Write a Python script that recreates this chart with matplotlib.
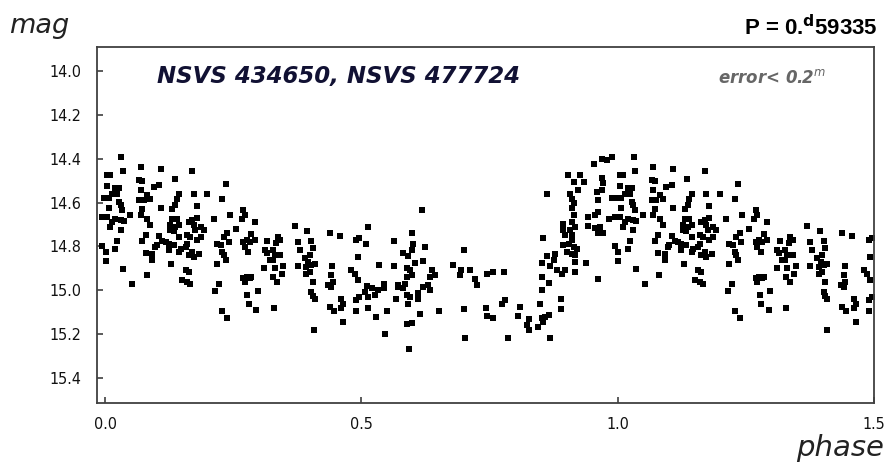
import numpy as np
import matplotlib
matplotlib.use("Agg")
import matplotlib.pyplot as plt

# phase 0..1; the 1.0-1.5 part is the same points shifted by one period
phase = [
    0.031, 0.010, 0.004, 0.034, 0.069, 0.108, 0.170, 0.136, 0.066, 0.072, 0.004, 0.020, 0.027, 0.105,
    0.095, 0.235, 0.069, 0.014, 0.023, 0.144, 0.173, 0.199, -0.003, 0.007, 0.082, 0.088, 0.075, 0.066,
    0.140, 0.228, 0.027, 0.030, 0.137, 0.007, 0.108, 0.179, 0.131, 0.072, 0.033, 0.049, 0.069, 0.243,
    -0.006, 0.004, 0.082, 0.212, 0.020, 0.030, 0.014, 0.036, 0.131, 0.140, 0.179, 0.170, 0.163, 0.088,
    0.010, 0.127, 0.137, 0.144, 0.186, 0.192, 0.176, 0.173, 0.030, 0.127, 0.134, 0.238, 0.079, 0.105,
    0.144, 0.160, 0.166, 0.186, 0.179, 0.231, 0.241, 0.072, 0.023, 0.111, 0.118, 0.124, 0.134, 0.101,
    0.160, 0.157, 0.218, 0.225, -0.006, 0.020, 0.098, 0.124, 0.147, 0.144, 0.001, 0.228, 0.231, 0.079,
    0.092, 0.163, 0.173, 0.183, 0.170, 0.092, 0.001, 0.235, 0.129, 0.218, 0.035, 0.157, 0.163, 0.081,
    0.150, 0.160, 0.166, 0.053, 0.222, 0.215, 0.228, 0.238,
    0.269, 0.272, 0.266, 0.292, 0.256, 0.285, 0.276, 0.269, 0.282, 0.292, 0.272, 0.279, 0.370, 0.394,
    0.438, 0.458, 0.490, 0.496, 0.316, 0.337, 0.342, 0.334, 0.376, 0.402, 0.311, 0.315, 0.327, 0.331,
    0.341, 0.321, 0.327, 0.380, 0.405, 0.399, 0.389, 0.396, 0.402, 0.409, 0.392, 0.399, 0.376, 0.493,
    0.310, 0.331, 0.347, 0.344, 0.328, 0.336, 0.392, 0.443, 0.480, 0.487, 0.269, 0.276, 0.282, 0.272,
    0.285, 0.441, 0.435, 0.441, 0.444, 0.405, 0.493, 0.298, 0.402, 0.405, 0.409, 0.277, 0.461, 0.464,
    0.461, 0.490, 0.496, 0.280, 0.295, 0.329, 0.438, 0.446, 0.490, 0.464, 0.408,
    0.619, 0.512, 0.598, 0.509, 0.564, 0.601, 0.598, 0.582, 0.591, 0.623, 0.700, 0.534, 0.564, 0.604,
    0.620, 0.588, 0.595, 0.598, 0.588, 0.637, 0.643, 0.634, 0.678, 0.695, 0.692, 0.712, 0.721, 0.725,
    0.744, 0.757, 0.510, 0.520, 0.507, 0.513, 0.526, 0.533, 0.543, 0.543, 0.572, 0.585, 0.582, 0.572,
    0.620, 0.630, 0.634, 0.611, 0.611, 0.588, 0.595, 0.591, 0.567, 0.512, 0.549, 0.528, 0.614, 0.651,
    0.700, 0.743, 0.745, 0.756, 0.589, 0.598, 0.546, 0.702, 0.593,
    0.953, 0.969, 0.979, 0.988, 0.903, 0.927, 0.914, 0.935, 0.923, 0.969, 0.972, 0.969, 0.959, 0.962,
    0.988, 0.862, 0.907, 0.910, 0.914, 0.910, 0.962, 0.956, 0.942, 0.942, 0.982, 0.894, 0.894, 0.897,
    0.914, 0.910, 0.917, 0.907, 0.910, 0.956, 0.966, 0.962, 0.972, 0.855, 0.894, 0.904, 0.910, 0.914,
    0.901, 0.910, 0.920, 0.917, 0.862, 0.878, 0.875, 0.852, 0.868, 0.881, 0.891, 0.897, 0.917, 0.917,
    0.938, 0.852, 0.865, 0.852, 0.962, 0.779, 0.780, 0.775, 0.890, 0.890, 0.849, 0.810, 0.806, 0.826,
    0.823, 0.826, 0.852, 0.858, 0.865, 0.855, 0.844, 0.785, 0.868,
]
mag = [
    14.394, 14.472, 14.472, 14.457, 14.437, 14.445, 14.457, 14.493, 14.495, 14.502, 14.524, 14.533, 14.533, 14.521,
    14.528, 14.516, 14.544, 14.559, 14.559, 14.559, 14.559, 14.559, 14.578, 14.578, 14.566, 14.582, 14.589, 14.589,
    14.582, 14.582, 14.597, 14.612, 14.609, 14.623, 14.623, 14.617, 14.630, 14.630, 14.635, 14.655, 14.658, 14.655,
    14.665, 14.665, 14.673, 14.673, 14.676, 14.680, 14.691, 14.685, 14.673, 14.673, 14.670, 14.680, 14.691, 14.703,
    14.711, 14.703, 14.711, 14.703, 14.711, 14.726, 14.726, 14.703, 14.726, 14.726, 14.731, 14.741, 14.746, 14.752,
    14.757, 14.746, 14.757, 14.757, 14.772, 14.757, 14.780, 14.775, 14.775, 14.775, 14.782, 14.787, 14.792, 14.792,
    14.787, 14.802, 14.787, 14.795, 14.799, 14.810, 14.802, 14.817, 14.810, 14.825, 14.828, 14.825, 14.840, 14.830,
    14.833, 14.840, 14.848, 14.837, 14.825, 14.863, 14.866, 14.863, 14.881, 14.881, 14.904, 14.909, 14.916, 14.932,
    14.955, 14.962, 14.970, 14.974, 14.974, 15.003, 15.094, 15.125,
    14.634, 14.657, 14.675, 14.688, 14.723, 14.744, 14.771, 14.779, 14.779, 14.771, 14.802, 14.825, 14.707, 14.730,
    14.738, 14.753, 14.771, 14.764, 14.774, 14.759, 14.771, 14.783, 14.779, 14.774, 14.817, 14.832, 14.817, 14.840,
    14.840, 14.863, 14.863, 14.817, 14.809, 14.840, 14.855, 14.870, 14.886, 14.881, 14.893, 14.916, 14.890, 14.850,
    14.901, 14.901, 14.890, 14.924, 14.939, 14.962, 14.924, 14.890, 14.908, 14.924, 14.946, 14.939, 14.946, 14.962,
    14.939, 14.931, 14.977, 14.985, 14.962, 14.962, 14.954, 15.003, 15.007, 15.027, 15.042, 15.023, 15.038, 15.061,
    15.083, 15.045, 15.030, 15.061, 15.091, 15.080, 15.076, 15.094, 15.095, 15.147, 15.182,
    14.632, 14.711, 14.738, 14.787, 14.775, 14.787, 14.817, 14.829, 14.845, 14.805, 14.817, 14.883, 14.890, 14.875,
    14.866, 14.898, 14.909, 14.931, 14.939, 14.906, 14.931, 14.942, 14.883, 14.906, 14.931, 14.909, 14.947, 14.977,
    14.927, 14.916, 14.982, 14.992, 15.008, 15.030, 15.023, 15.000, 14.970, 14.988, 14.977, 14.970, 14.992, 14.985,
    14.985, 14.977, 14.997, 15.012, 15.038, 15.023, 15.030, 15.061, 15.038, 15.081, 15.096, 15.122, 15.110, 15.096,
    15.088, 15.081, 15.117, 15.129, 15.155, 15.148, 15.198, 15.218, 15.269,
    14.422, 14.399, 14.407, 14.394, 14.472, 14.472, 14.508, 14.508, 14.543, 14.487, 14.513, 14.543, 14.551, 14.589,
    14.578, 14.559, 14.563, 14.582, 14.604, 14.627, 14.642, 14.658, 14.665, 14.706, 14.673, 14.696, 14.726, 14.749,
    14.658, 14.688, 14.711, 14.726, 14.749, 14.718, 14.711, 14.741, 14.737, 14.760, 14.795, 14.787, 14.772, 14.802,
    14.825, 14.833, 14.810, 14.840, 14.845, 14.837, 14.863, 14.878, 14.889, 14.909, 14.924, 14.909, 14.871, 14.916,
    14.874, 14.939, 14.967, 14.997, 14.947, 14.916, 15.046, 15.061, 15.038, 15.084, 15.061, 15.076, 15.119, 15.133,
    15.160, 15.183, 15.129, 15.122, 15.114, 15.145, 15.168, 15.218, 15.218,
]
yticks = [14.0, 14.2, 14.4, 14.6, 14.8, 15.0, 15.2, 15.4]
xticks = [0.0, 0.5, 1.0, 1.5]

ph = np.array(phase)
mg = np.array(mag)
first = ph < 0.5
ph_all = np.concatenate([ph, ph[first] + 1.0])
mg_all = np.concatenate([mg, mg[first]])

fig = plt.figure(figsize=(8.88, 4.69), dpi=100)
ax = fig.add_axes([97/888, 1-403/469, (874-97)/888, (403-47)/469])
ax.plot(ph_all, mg_all, 's', color='black', ms=4.8, mew=0)
ax.set_xlim(-0.016, 1.5)
ax.set_ylim(15.515, 13.89)
ax.set_xticks(xticks)
ax.set_yticks(yticks)
ax.set_xticklabels(["%.1f" % v for v in xticks])
ax.set_yticklabels(["%.1f" % v for v in yticks])
for lab in ax.get_xticklabels() + ax.get_yticklabels():
    lab.set_family('DejaVu Sans')
    lab.set_stretch('condensed')
    lab.set_fontsize(11.5)
    lab.set_color('#111111')
ax.tick_params(direction='in', length=4, width=1.2, color='#404040')
ax.tick_params(axis='y', pad=11)
ax.tick_params(axis='x', pad=10)
for s in ax.spines.values():
    s.set_color('#404040')
    s.set_linewidth(1.3)

fig.text(9/888, 1-33/469, "mag", fontsize=19.5, style='italic', va='baseline', ha='left', color='#222222')
fig.text(884/888, 1-456/469, "phase", fontsize=21, style='italic', va='baseline', ha='right', color='#222222')
fig.text(878/888, 1-35/469, r"P = 0.$^\mathbf{d}$59335", fontsize=16, fontweight='bold',
         family='Liberation Sans', va='baseline', ha='right', color='black')
fig.text(157/888, 1-83/469, "NSVS 434650, NSVS 477724", fontsize=16.5, fontweight='bold', style='italic',
         va='baseline', ha='left', color='#111133')
fig.text(718/888, 1-83/469, r"error< 0.2$^\mathit{m}$", fontsize=12, fontweight='bold', style='italic',
         va='baseline', ha='left', color='#666666')

fig.savefig("out.png", dpi=100)
